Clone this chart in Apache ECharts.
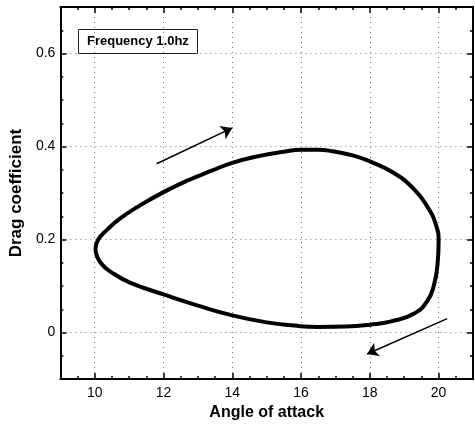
<!DOCTYPE html>
<html>
<head>
<meta charset="utf-8">
<script src="https://cdn.jsdelivr.net/npm/echarts@6/dist/echarts.min.js"></script>
<style>
  html, body { margin: 0; padding: 0; background: #fff; }
  #chart { width: 475px; height: 426px; }
</style>
</head>
<body>
<div id="chart"></div>
<script>
// tick values
var xMajor = [10, 12, 14, 16, 18, 20];
var yMajor = [0, 0.2, 0.4, 0.6];
var xMinor = [];
for (var i = 19; i <= 41; i++) { if (i % 4 !== 0) xMinor.push(i / 2); }
var yMinor = [];
for (var k = -1; k <= 13; k++) { if (k % 4 !== 0) yMinor.push(Math.round(k * 5) / 100); }

// hysteresis loop (clockwise from the left tip)
var aoa = [10.02, 10.1, 10.37, 10.75, 11.24, 12.0, 12.7, 13.4, 14.0, 14.8, 15.5, 16.0, 16.5, 16.9,
  17.5, 18.0, 18.7, 19.29, 19.68, 19.92, 20.0, 19.97, 19.87, 19.68, 19.29, 18.62, 18.0, 17.3,
  16.5, 15.8, 15.0, 14.0, 13.0, 12.0, 11.04, 10.56, 10.17, 10.02];
var cd = [0.178, 0.2, 0.222, 0.246, 0.27, 0.302, 0.327, 0.348, 0.365, 0.38, 0.389, 0.393, 0.393, 0.39,
  0.381, 0.368, 0.343, 0.308, 0.27, 0.232, 0.196, 0.148, 0.104, 0.069, 0.041, 0.024, 0.017, 0.013,
  0.012, 0.015, 0.022, 0.037, 0.058, 0.082, 0.107, 0.126, 0.15, 0.178];

// direction arrows [x0, y0, x1, y1]
var arrowUp = [11.8, 0.363, 14.0, 0.44];
var arrowDown = [20.25, 0.03, 17.92, -0.046];

var FONT = 'Liberation Sans, Arial, sans-serif';

function frameAxis(dim, pos, ticks, len, withLine) {
  var isX = dim === 'x';
  return {
    type: 'value',
    position: pos,
    min: isX ? 9 : -0.1,
    max: isX ? 21 : 0.7,
    axisLine: { show: withLine, onZero: false, lineStyle: { color: '#000', width: 2 } },
    axisTick: { show: true, inside: true, length: len, customValues: ticks,
      lineStyle: { color: '#000', width: 1.5 } },
    axisLabel: { show: false },
    splitLine: { show: false }
  };
}

var chartDom = document.getElementById('chart');
var myChart = echarts.init(chartDom);

var xMain = frameAxis('x', 'bottom', xMajor, 6, true);
xMain.axisLabel = { show: true, customValues: xMajor, margin: 7, color: '#000', fontSize: 14, fontFamily: FONT };
xMain.splitLine = { show: true, lineStyle: { color: '#777', width: 1, type: [1, 4] } };
xMain.name = 'Angle of attack';
xMain.nameLocation = 'middle';
xMain.nameGap = 19;
xMain.nameTextStyle = { color: '#000', fontSize: 16, fontWeight: 'bold', fontFamily: FONT };

var yMain = frameAxis('y', 'left', yMajor, 6, true);
yMain.axisLabel = { show: true, customValues: yMajor, margin: 5, color: '#000', fontSize: 14, fontFamily: FONT };
yMain.splitLine = { show: true, lineStyle: { color: '#777', width: 1, type: [1, 4] } };
yMain.name = 'Drag coefficient';
yMain.nameLocation = 'middle';
yMain.nameGap = 25;
yMain.nameTextStyle = { color: '#000', fontSize: 17, fontWeight: 'bold', fontFamily: FONT };

var loop = aoa.map(function (a, i) { return [a, cd[i]]; });

var option = {
  animation: false,
  backgroundColor: '#fff',
  title: {
    text: 'Frequency 1.0hz',
    left: 78,
    top: 29,
    padding: [6, 9],
    borderWidth: 1,
    borderColor: '#222',
    textStyle: { color: '#000', fontSize: 13, fontWeight: 'bold', fontFamily: FONT }
  },
  grid: { left: 58, right: 2, top: 7, bottom: 40, containLabel: false },
  xAxis: [
    xMain,
    frameAxis('x', 'bottom', xMinor, 3, false),
    frameAxis('x', 'top', xMajor, 6, true),
    frameAxis('x', 'top', xMinor, 3, false)
  ],
  yAxis: [
    yMain,
    frameAxis('y', 'left', yMinor, 3, false),
    frameAxis('y', 'right', yMajor, 6, true),
    frameAxis('y', 'right', yMinor, 3, false)
  ],
  series: [
    {
      type: 'line',
      data: loop,
      xAxisIndex: 0,
      yAxisIndex: 0,
      smooth: 0.5,
      showSymbol: false,
      silent: true,
      lineStyle: { color: '#000', width: 4 },
      markLine: {
        silent: true,
        symbol: ['none', 'arrow'],
        symbolSize: 11,
        label: { show: false },
        lineStyle: { color: '#000', width: 1.5, type: 'solid' },
        data: [
          [{ coord: [arrowUp[0], arrowUp[1]] }, { coord: [arrowUp[2], arrowUp[3]] }],
          [{ coord: [arrowDown[0], arrowDown[1]] }, { coord: [arrowDown[2], arrowDown[3]] }]
        ]
      }
    }
  ]
};

myChart.setOption(option);
</script>
</body>
</html>
